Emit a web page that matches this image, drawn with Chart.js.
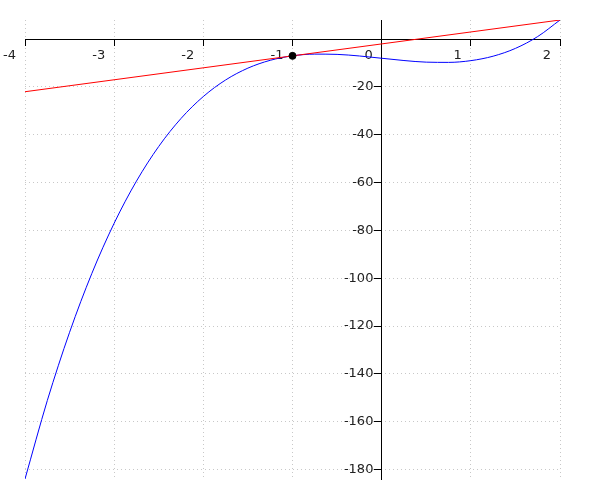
<!DOCTYPE html>
<html>
<head>
<meta charset="utf-8">
<script src="https://cdn.jsdelivr.net/npm/chart.js@4/dist/chart.umd.min.js"></script>
<style>
  html, body { margin: 0; padding: 0; background: #fff; }
  #wrap { width: 600px; height: 500px; }
</style>
</head>
<body>
<div id="wrap"><canvas id="plot"></canvas></div>
<script>
// curve samples
const curveX = [-4, -3.75, -3.5, -3.25, -3, -2.75, -2.5, -2.25, -2, -1.75, -1.5, -1.25,
                -1, -0.75, -0.5, -0.25, 0, 0.25, 0.5, 0.75, 1, 1.25, 1.5, 1.75, 2];
const curveY = [-184, -151.2, -122.63, -97.98, -77, -59.39, -44.88, -33.17, -24, -17.08, -12.13, -8.86,
                -7, -6.27, -6.38, -7.05, -8, -8.95, -9.63, -9.73, -9, -7.14, -3.88, 1.08, 8];

// tangent line end points
const lineX = [-4, 2];
const lineY = [-22, 8];

// marked point
const dotX = [-1];
const dotY = [-7];

const xTicks = [-4, -3, -2, -1, 0, 1, 2];
const yTicks = [-180, -160, -140, -120, -100, -80, -60, -40, -20, 0];

const toPts = (xs, ys) => xs.map((x, i) => ({ x: x, y: ys[i] }));

const ctx = document.getElementById('plot').getContext('2d');
new Chart(ctx, {
    type: 'scatter',
    data: {
        datasets: [{
            data: toPts(dotX, dotY),
            backgroundColor: '#000',
            borderColor: '#000',
            pointRadius: 3.5,
            order: 0
        }, {
            data: toPts(lineX, lineY),
            showLine: true,
            borderColor: '#ff0000',
            borderWidth: 1,
            pointRadius: 0,
            order: 1
        }, {
            data: toPts(curveX, curveY),
            showLine: true,
            borderColor: '#0000ff',
            borderWidth: 1,
            pointRadius: 0,
            cubicInterpolationMode: 'monotone',
            order: 2
        }]
    },
    options: {
        responsive: true,
        maintainAspectRatio: false,
        animation: false,
        layout: { padding: { left: 25, right: 40, top: 20, bottom: 21 } },
        plugins: { legend: { display: false }, tooltip: { enabled: false } },
        scales: {
            x: {
                type: 'linear',
                position: { y: 0 },
                min: -4,
                max: 2,
                afterBuildTicks: s => { s.ticks = xTicks.map(v => ({ value: v })); },
                ticks: {
                    align: 'end',
                    labelOffset: -9,
                    padding: 3,
                    color: '#222',
                    font: { family: 'DejaVu Sans', size: 13 }
                },
                grid: {
                    color: '#c8c8c8',
                    tickColor: '#000',
                    tickLength: 6,
                    tickBorderDash: []
                },
                border: { display: true, color: '#000', width: 1, dash: [1, 3] }
            },
            y: {
                type: 'linear',
                position: { x: 0 },
                min: -184,
                max: 8,
                afterBuildTicks: s => { s.ticks = yTicks.map(v => ({ value: v })); },
                ticks: {
                    color: '#222',
                    font: { family: 'DejaVu Sans', size: 13 },
                    // centred axis puts the text right at the line, pad it off with spaces
                    callback: v => (v === 0 ? '' : v + '  ')
                },
                grid: {
                    color: '#c8c8c8',
                    tickColor: '#000',
                    tickLength: 7,
                    tickBorderDash: []
                },
                border: { display: true, color: '#000', width: 1, dash: [1, 3] }
            }
        }
    }
});
</script>
</body>
</html>
